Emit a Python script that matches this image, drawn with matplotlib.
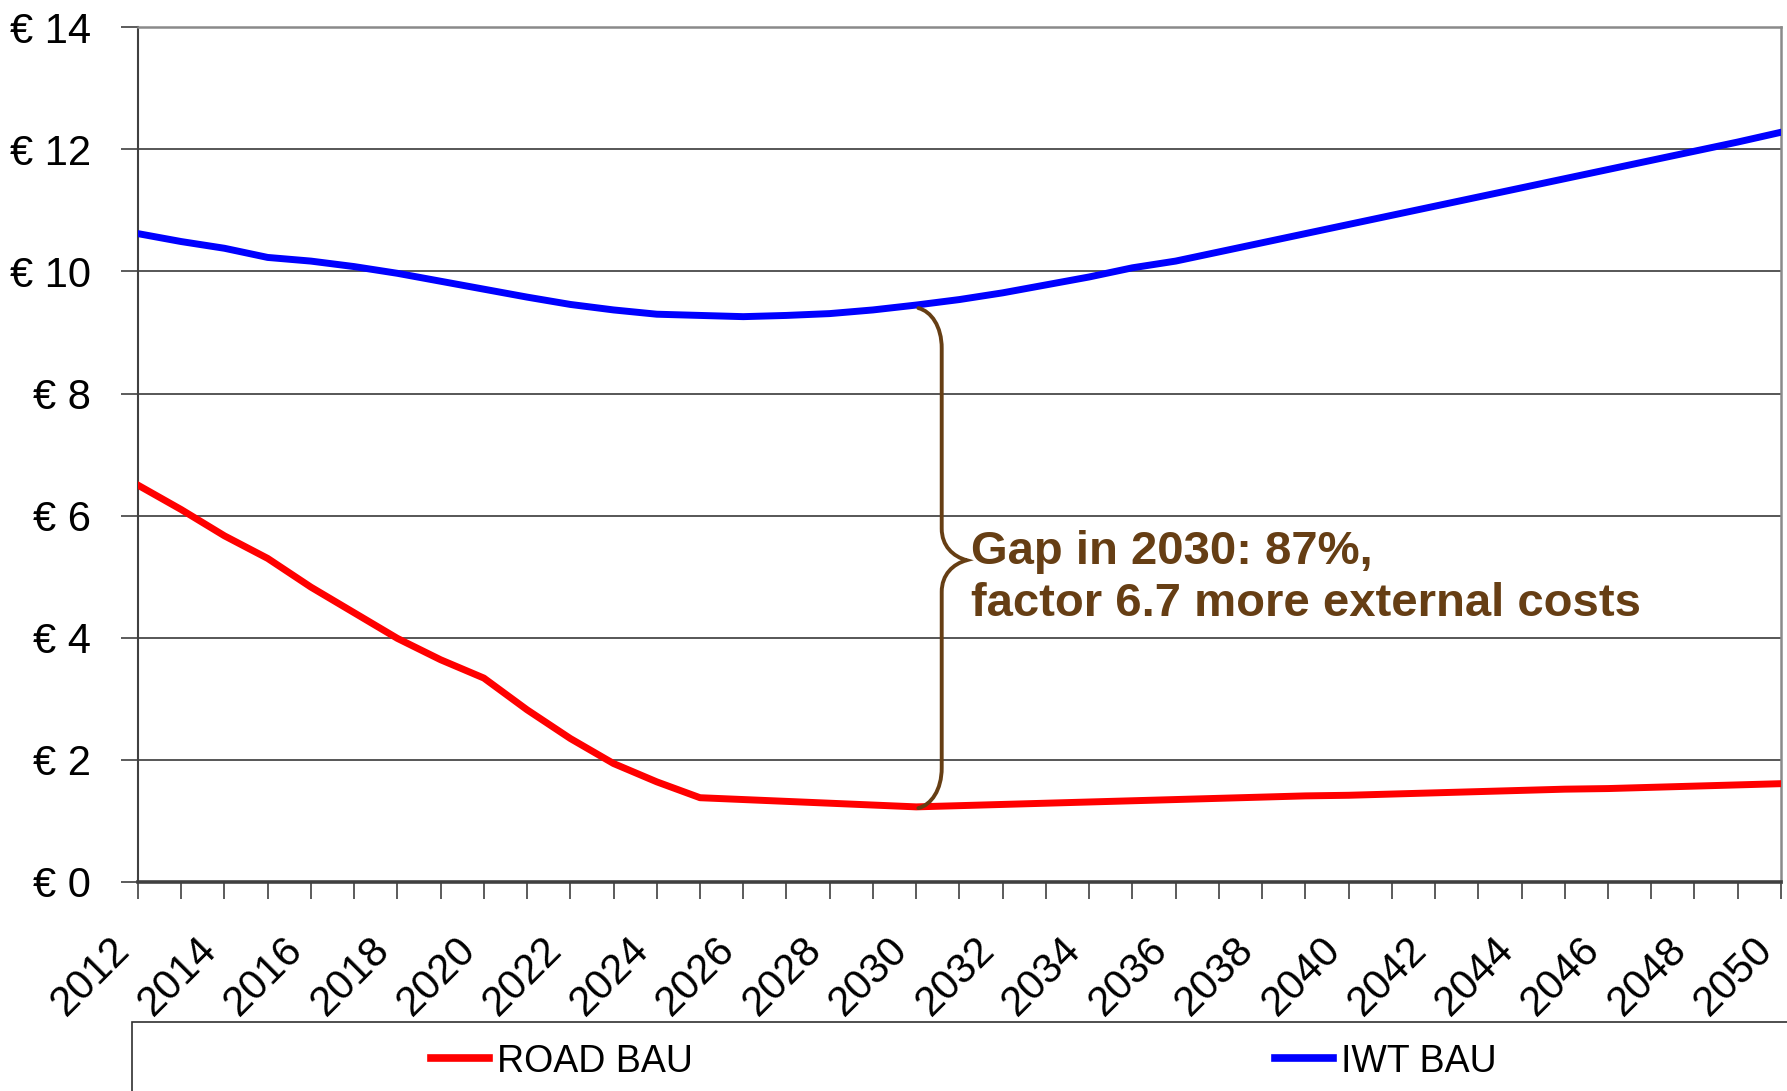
import matplotlib
matplotlib.use("Agg")
import matplotlib.pyplot as plt
from matplotlib.path import Path
from matplotlib.patches import PathPatch, Rectangle
from matplotlib.lines import Line2D

plt.rcParams['font.family'] = ['Liberation Sans', 'DejaVu Sans']

years = list(range(2012, 2051))

iwt_bau = [10.62, 10.49, 10.38, 10.23, 10.17, 10.08, 9.97, 9.84, 9.71, 9.58,
           9.46, 9.37, 9.30, 9.28, 9.26, 9.28, 9.31, 9.37, 9.45, 9.54,
           9.65, 9.78, 9.91, 10.06, 10.17, 10.32, 10.47, 10.62, 10.77, 10.92,
           11.07, 11.22, 11.37, 11.52, 11.67, 11.82, 11.97, 12.12, 12.28]

road_bau = [6.50, 6.10, 5.67, 5.30, 4.83, 4.41, 3.99, 3.64, 3.34, 2.82,
            2.35, 1.94, 1.64, 1.38, 1.35, 1.32, 1.29, 1.26, 1.23, 1.25,
            1.27, 1.29, 1.31, 1.33, 1.35, 1.37, 1.39, 1.41, 1.42, 1.44,
            1.46, 1.48, 1.50, 1.52, 1.53, 1.55, 1.57, 1.59, 1.61]

y_ticks = [0, 2, 4, 6, 8, 10, 12, 14]
y_labels = ["€ 0", "€ 2", "€ 4", "€ 6", "€ 8", "€ 10", "€ 12", "€ 14"]
x_label_years = list(range(2012, 2051, 2))

gap_year = 2030
gap_text = "Gap in 2030: 87%,\nfactor 6.7 more external costs"

brown = "#663E14"

fig = plt.figure(figsize=(17.87, 10.91), dpi=100)
ax = fig.add_axes([0.0772, 0.1916, 0.9194, 0.7834])

ax.plot(years, road_bau, color="#FF0000", lw=5.0, solid_joinstyle="round", zorder=3)
ax.plot(years, iwt_bau, color="#0000FF", lw=5.0, solid_joinstyle="round", zorder=3)

ax.set_xlim(2012, 2050)
ax.set_ylim(0, 14)
ax.set_yticks(y_ticks)
ax.set_yticklabels(y_labels, fontsize=30)
ax.set_xticks(years, minor=True)
ax.set_xticks(x_label_years)
ax.set_xticklabels([str(y) for y in x_label_years], fontsize=30,
                   rotation=45, ha="right", va="top")

for y in y_ticks[1:-1]:
    ax.axhline(y, color="#3a3a3a", lw=1.2, zorder=1)

ax.tick_params(axis="y", length=12, width=1.2, color="#404040", pad=22, direction="out")
ax.tick_params(axis="x", which="both", length=12, width=1.2, color="#404040", direction="out")
ax.tick_params(axis="x", which="major", pad=22)

for side in ("top", "right"):
    ax.spines[side].set_color("#8a8a8a")
    ax.spines[side].set_linewidth(1.8)
ax.spines["left"].set_color("#404040")
ax.spines["left"].set_linewidth(1.5)
ax.spines["bottom"].set_color("#404040")
ax.spines["bottom"].set_linewidth(2.6)

# curly brace spanning the 2030 gap between the two series
y_top = iwt_bau[years.index(gap_year)] - 0.05
y_bot = road_bau[years.index(gap_year)] - 0.02
y_mid = 5.27
x0 = gap_year + 0.05
xv = gap_year + 0.59
xt = gap_year + 1.17
c = 0.66       # height of the rounded ends
cm = 0.52      # height of the curves leading to the centre point
w = xv - x0
wt = xt - xv
verts = [
    (x0, y_top),
    (x0 + 0.55 * w, y_top - 0.08 * c), (xv, y_top - 0.45 * c), (xv, y_top - c),
    (xv, y_mid + cm),
    (xv, y_mid + 0.45 * cm), (xv + 0.45 * wt, y_mid + 0.06), (xt, y_mid),
    (xv + 0.45 * wt, y_mid - 0.06), (xv, y_mid - 0.45 * cm), (xv, y_mid - cm),
    (xv, y_bot + c),
    (xv, y_bot + 0.45 * c), (x0 + 0.55 * w, y_bot + 0.08 * c), (x0, y_bot),
]
codes = [Path.MOVETO,
         Path.CURVE4, Path.CURVE4, Path.CURVE4,
         Path.LINETO,
         Path.CURVE4, Path.CURVE4, Path.CURVE4,
         Path.CURVE4, Path.CURVE4, Path.CURVE4,
         Path.LINETO,
         Path.CURVE4, Path.CURVE4, Path.CURVE4]
ax.add_patch(PathPatch(Path(verts, codes), fill=False, edgecolor=brown, lw=2.8,
                       capstyle="round", zorder=4))

ax.text(gap_year + 1.26, 4.98, gap_text, color=brown, fontsize=34, fontweight="bold",
        ha="left", va="center", linespacing=1.22, zorder=5)

# legend frame along the bottom of the figure
fig.patches.append(Rectangle((0.0739, -0.05), 1.0, 0.1132, transform=fig.transFigure,
                             fill=False, edgecolor="#303030", lw=1.2))

road_handle = Line2D([], [], color="#FF0000", lw=5.5)
iwt_handle = Line2D([], [], color="#0000FF", lw=5.5)
for handle, label, xa in [(road_handle, "ROAD BAU", 0.2412), (iwt_handle, "IWT BAU", 0.7135)]:
    fig.legend([handle], [label], loc="center left", bbox_to_anchor=(xa, 0.027),
               frameon=False, fontsize=27, handlelength=1.55, handletextpad=0.22,
               borderpad=0, borderaxespad=0)

fig.savefig("out.png", dpi=100)
